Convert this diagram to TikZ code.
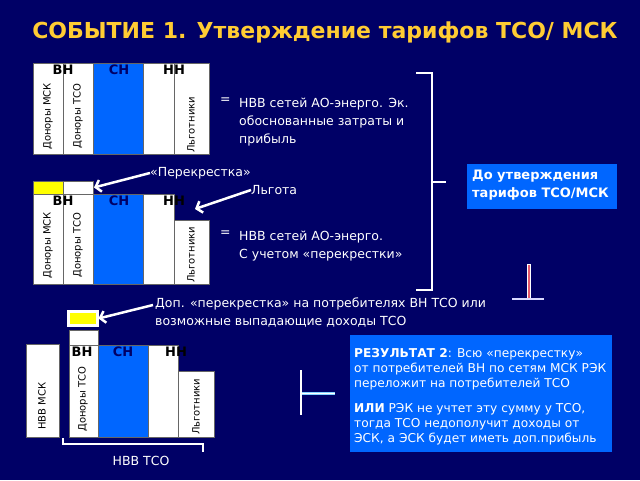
\documentclass[tikz,border=0pt]{standalone}
\usepackage{fontspec}
\setmainfont{DejaVu Sans}
\usetikzlibrary{arrows.meta}
\definecolor{bg}{RGB}{0,0,102}
\definecolor{barblue}{RGB}{0,102,255}
\definecolor{ttl}{RGB}{255,204,51}
\definecolor{ylw}{RGB}{255,255,0}
\definecolor{redline}{RGB}{230,90,110}
\definecolor{cyanline}{RGB}{130,210,255}
\tikzset{
  cell/.style={rectangle, inner sep=0pt, outer sep=0pt, anchor=north west, draw=black!60, line width=0.5pt, fill=white},
  bluecell/.style={cell, fill=barblue},
  coltext/.style={rotate=90, anchor=west, inner sep=0pt, text=black, font=\fontsize{10}{11}\selectfont},
  lvl/.style={inner sep=0pt, text=black, font=\bfseries\fontsize{13}{14}\selectfont},
  wtext/.style={inner sep=0pt, text=white, align=left, anchor=north west, font=\fontsize{12.5}{18}\selectfont},
  arr/.style={draw=white, line width=2.5pt, -{Straight Barb[length=5pt,width=12pt,line width=2.5pt]}},
  bracket/.style={draw=white, line width=2pt},
}
\begin{document}
\begin{tikzpicture}[x=1pt,y=-1pt]
\useasboundingbox (0,0) rectangle (640,480);
\fill[bg] (0,0) rectangle (640,480);

% Title
\node[inner sep=0pt, text=ttl, font=\bfseries\fontsize{22}{24}\selectfont] (title) at (325,32) {СОБЫТИЕ 1. Утверждение тарифов ТСО/ МСК};

% ---------- Diagram 1 ----------
\node[cell, minimum width=30pt, minimum height=91pt] (a1) at (33,63) {};
\node[cell, minimum width=30pt, minimum height=91pt] (a2) at (63,63) {};
\node[bluecell, minimum width=50pt, minimum height=91pt] (a3) at (93,63) {};
\node[cell, minimum width=31pt, minimum height=91pt] (a4) at (143,63) {};
\node[cell, minimum width=35pt, minimum height=91pt] (a5) at (174,63) {};
\node[lvl] (a1l) at (63,70) {ВН};
\node[lvl, text=bg] (a3l) at (119,70) {СН};
\node[lvl] (a4l) at (174,70) {НН};
\node[coltext] (a1t) at (48,150) {Доноры МСК};
\node[coltext] (a2t) at (78,149) {Доноры ТСО};
\node[coltext] (a5t) at (191,153) {Льготники};
\node[wtext] (t1eq) at (220,98) {=};
\node[wtext] (t1) at (239,98) {НВВ сетей АО-энерго. Эк.\\обоснованные затраты и\\прибыль};

% ---------- Diagram 2 ----------
\node[cell, fill=ylw, minimum width=30pt, minimum height=13pt] (b0y) at (33,181) {};
\node[cell, minimum width=30pt, minimum height=13pt] (b0w) at (63,181) {};
\node[cell, minimum width=30pt, minimum height=90pt] (b1) at (33,194) {};
\node[cell, minimum width=30pt, minimum height=90pt] (b2) at (63,194) {};
\node[bluecell, minimum width=50pt, minimum height=90pt] (b3) at (93,194) {};
\node[cell, minimum width=31pt, minimum height=90pt] (b4) at (143,194) {};
\node[cell, minimum width=35pt, minimum height=64pt] (b5) at (174,220) {};
\node[lvl] (b1l) at (63,201) {ВН};
\node[lvl, text=bg] (b3l) at (119,201) {СН};
\node[lvl] (b4l) at (174,201) {НН};
\node[coltext] (b1t) at (48,279) {Доноры МСК};
\node[coltext] (b2t) at (78,278) {Доноры ТСО};
\node[coltext] (b5t) at (191,283) {Льготники};
\node[wtext, anchor=west] (perek) at (150,173) {«Перекрестка»};
\node[wtext, anchor=west] (lgota) at (251,190) {Льгота};
\coordinate (lgtip) at (195,209);
\draw[arr] (perek.west) -- ([xshift=1pt]b0w.east);
\draw[arr] (lgota.west) -- (lgtip);
\node[wtext] (t2eq) at (220,231) {=};
\node[wtext] (t2) at (239,231) {НВВ сетей АО-энерго.\\С учетом «перекрестки»};

% Bracket and box
\draw[bracket] (416,73) -- (432,73) -- (432,290) -- (416,290);
\draw[bracket] (432,182) -- (446,182);
\node[rectangle, fill=barblue, inner sep=0pt, outer sep=0pt, anchor=north west, minimum width=150pt, minimum height=45pt] (dobox) at (467,164) {};
\node[wtext, font=\bfseries\fontsize{13}{18}\selectfont] (dotext) at (472,170) {До утверждения\\тарифов ТСО/МСК};

% Red symbol
\draw[white, line width=4pt] (529,264) -- (529,298);
\draw[redline, line width=2pt] (529,265) -- (529,298);
\draw[white!85!blue, line width=1.5pt] (512,299) -- (544,299);

% ---------- Diagram 3 ----------
\node[cell, fill=ylw, draw=white, line width=3pt, minimum width=29pt, minimum height=14pt] (c0) at (68.5,311.5) {};
\node[cell, minimum width=33pt, minimum height=93pt] (c1) at (26,344) {};
\node[cell, minimum width=29pt, minimum height=15pt] (cw) at (69,330) {};
\node[cell, minimum width=29pt, minimum height=92pt] (c2) at (69,345) {};
\node[bluecell, minimum width=50pt, minimum height=92pt] (c3) at (98,345) {};
\node[cell, minimum width=30pt, minimum height=92pt] (c4) at (148,345) {};
\node[cell, minimum width=36pt, minimum height=66pt] (c5) at (178,371) {};
\node[lvl] (c2l) at (82,352) {ВН};
\node[lvl, text=bg] (c3l) at (123,352) {СН};
\node[lvl] (c4l) at (176,352) {НН};
\node[coltext] (c1t) at (42,430) {НВВ МСК};
\node[coltext] (c2t) at (83,432) {Доноры ТСО};
\node[coltext] (c5t) at (196,435) {Льготники};
\draw[bracket, line width=1.5pt] (63,438) -- (63,444) -- (203,444) -- (203,452);
\node[wtext, anchor=center] (nvvtso) at (141,461) {НВВ ТСО};

\node[wtext] (dop) at (155,298) {Доп. «перекрестка» на потребителях ВН ТСО или\\возможные выпадающие доходы ТСО};
\coordinate (doptail) at (153,305);
\draw[arr] (doptail) -- ([xshift=1pt]c0.east);

% Cyan symbol
\draw[white, line width=1.5pt] (301,370) -- (301,415);
\draw[cyanline, line width=3pt] (302,393) -- (335,393);
\draw[white, line width=1pt] (302,393) -- (335,393);

% Result box
\node[rectangle, fill=barblue, inner sep=0pt, outer sep=0pt, anchor=north west, minimum width=262pt, minimum height=117pt] (resbox) at (350,335) {};
\node[wtext, font=\fontsize{12.2}{15}\selectfont] (res1) at (354,348) {\textbf{РЕЗУЛЬТАТ 2}: Всю «перекрестку»\\от потребителей ВН по сетям МСК РЭК\\переложит на потребителей ТСО};
\node[wtext, font=\fontsize{12.2}{15}\selectfont] (res2) at (354,403) {\textbf{ИЛИ} РЭК не учтет эту сумму у ТСО,\\тогда ТСО недополучит доходы от\\ЭСК, а ЭСК будет иметь доп.прибыль};
\end{tikzpicture}
\end{document}
